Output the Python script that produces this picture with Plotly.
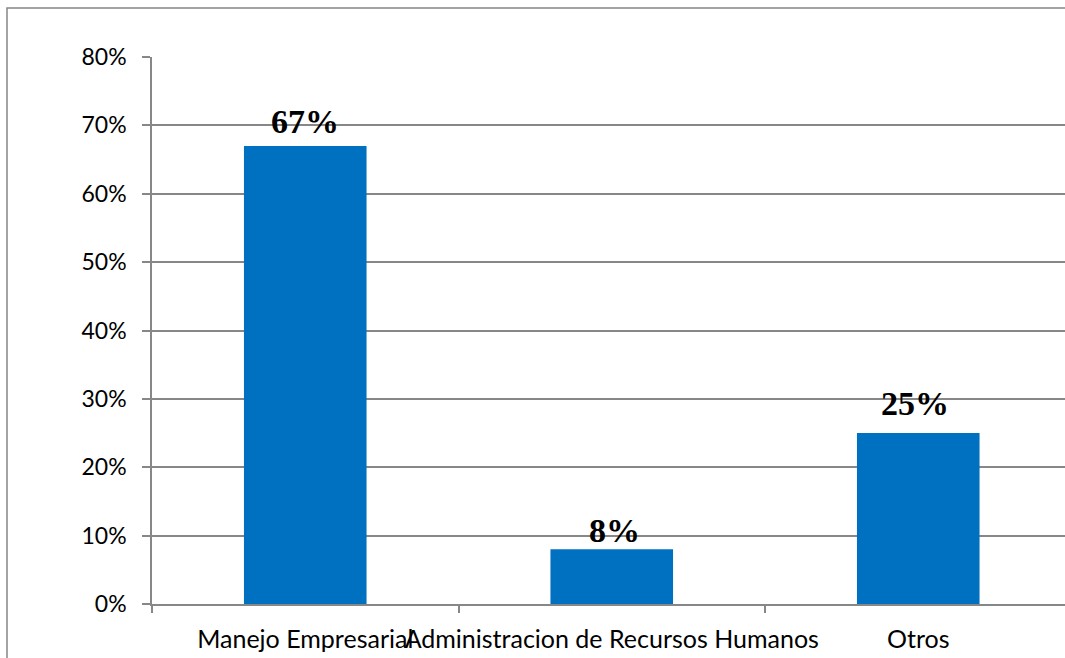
import plotly.graph_objects as go

categories = ["Manejo Empresarial", "Administracion de Recursos Humanos", "Otros"]
values = [0.67, 0.08, 0.25]
labels = ["67%", "8%", "25%"]

# small per-label placement tweaks (pixels), styling only
label_xshift = [0, 3, -3]
label_yshift = [4, -2, 9]

W, H = 1065, 658
L, R, T, B = 152, 0, 57, 54
GRAY = "#878787"
BLUE = "#0070C0"
YFONT = dict(family="Lato", size=23, color="black")
XFONT = dict(family="Lato", size=25, color="black")

fig = go.Figure()
fig.add_trace(go.Bar(
    x=categories, y=values, width=0.4,
    marker=dict(color=BLUE, line=dict(width=0)),
    hoverinfo="skip",
))

for c, v, t, dx, dy in zip(categories, values, labels, label_xshift, label_yshift):
    fig.add_annotation(
        x=c, y=v, text="<b>%s</b>" % t, showarrow=False,
        yanchor="bottom", xshift=dx, yshift=dy,
        font=dict(family="Liberation Serif", size=34, color="black"),
    )

plot_w = W - L - R
plot_h = H - T - B
# outer chart border (partly outside the visible window)
fig.add_shape(
    type="rect", xref="paper", yref="paper",
    x0=(7 - L) / plot_w, x1=1.2,
    y0=-0.3, y1=(H - B - 8) / plot_h,
    line=dict(color=GRAY, width=1.5), layer="below",
)

fig.update_layout(
    width=W, height=H,
    margin=dict(l=L, r=R, t=T, b=B, pad=0, autoexpand=False),
    paper_bgcolor="white", plot_bgcolor="white",
    showlegend=False,
    font=YFONT,
    xaxis=dict(
        type="category", range=[-0.5, -0.5 + plot_w / 306.5],
        tickson="boundaries", ticks="outside", ticklen=7, tickcolor=GRAY,
        tickwidth=1.5, showline=True, linecolor=GRAY, linewidth=1.5,
        showgrid=False, tickangle=0, automargin=False,
        ticklabelstandoff=12, tickfont=XFONT,
    ),
    yaxis=dict(
        range=[0, 0.8], dtick=0.1, tickformat=".0%",
        ticks="outside", ticklen=8, tickcolor=GRAY, tickwidth=1.5,
        showline=True, linecolor=GRAY, linewidth=1.5,
        showgrid=True, gridcolor=GRAY, gridwidth=1.5, zeroline=False,
        ticklabelstandoff=11, automargin=False, tickfont=YFONT,
    ),
)

fig.write_html(
    "out.html",
    config={"displayModeBar": False},
    post_script=(
        "document.documentElement.style.overflow='hidden';"
        "document.body.style.margin='0';document.body.style.overflow='hidden';"
    ),
)
